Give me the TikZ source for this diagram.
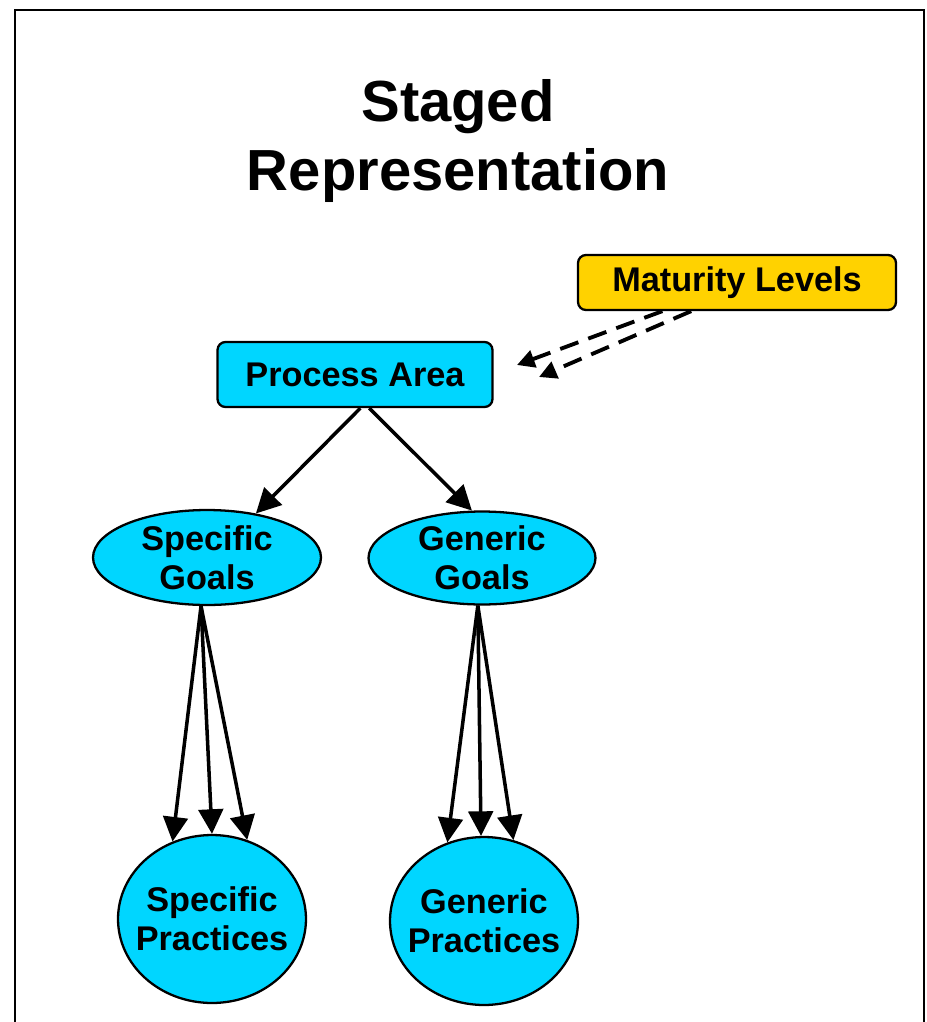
\documentclass[tikz,border=0pt]{standalone}
\usepackage{fontspec}
\setmainfont{Liberation Sans}
\usetikzlibrary{arrows.meta, shapes.geometric}
\definecolor{areacyan}{RGB}{0,214,255}
\definecolor{levelgold}{RGB}{255,210,0}

\begin{document}
\begin{tikzpicture}[x=0.02cm, y=-0.02cm, >={Triangle[length=14pt, width=14pt]},
    label/.style={font=\fontsize{19.5}{22}\selectfont\bfseries, align=center},
    box/.style={label, draw, line width=1.3pt, rounded corners=4.5pt, inner sep=0pt},
    goal/.style={label, ellipse, draw, fill=areacyan, line width=1.3pt, inner sep=0pt},
    link/.style={->, line width=2pt}]
    \useasboundingbox (0,0) rectangle (927,1022);
    \draw[line width=0.9pt] (15,1040) -- (15,10) -- (924,10) -- (924,1040);

    \node[font=\fontsize{33}{39}\selectfont\bfseries, align=center] (title) at (458,141) {Staged\\Representation};

    \node[box, fill=areacyan, minimum width=5.5cm, minimum height=1.3cm] (pa) at (355,374.5) {Process Area};
    \node[box, fill=levelgold, minimum width=6.36cm, minimum height=1.1cm] (ml) at (737,282.5) {Maturity Levels};

    \node[goal, minimum width=4.56cm, minimum height=1.9cm] (sg) at (207,557.5) {Specific\\Goals};
    \node[goal, minimum width=4.54cm, minimum height=1.86cm] (gg) at (482,558) {Generic\\Goals};

    \node[goal, inner xsep=-6pt, minimum width=3.76cm, minimum height=3.36cm] (sp) at (212,919) {Specific\\Practices};
    \node[goal, inner xsep=-6pt, minimum width=3.76cm, minimum height=3.36cm] (gp) at (484,921) {Generic\\Practices};

    \coordinate (ml1) at (517,365);
    \coordinate (ml2) at (539,377);
    \draw[link, line width=2.2pt, dash pattern=on 11pt off 6pt, >={Triangle[length=10pt, width=10pt]}] (ml.201) -- (ml1);
    \draw[link, line width=2.2pt, dash pattern=on 11pt off 6pt, >={Triangle[length=10pt, width=10pt]}] (ml.212) -- (ml2);

    \draw[link] (pa.279) -- (sg.42);
    \draw[link] (pa.293) -- (gg.102);

    \draw[link] (sg.263) -- (sp.117);
    \draw[link] (sg.263) -- (sp.90);
    \draw[link] (sg.263) -- (sp.66);

    \draw[link] (gg.265) -- (gp.115);
    \draw[link] (gg.265) -- (gp.92);
    \draw[link] (gg.265) -- (gp.70);
\end{tikzpicture}
\end{document}
